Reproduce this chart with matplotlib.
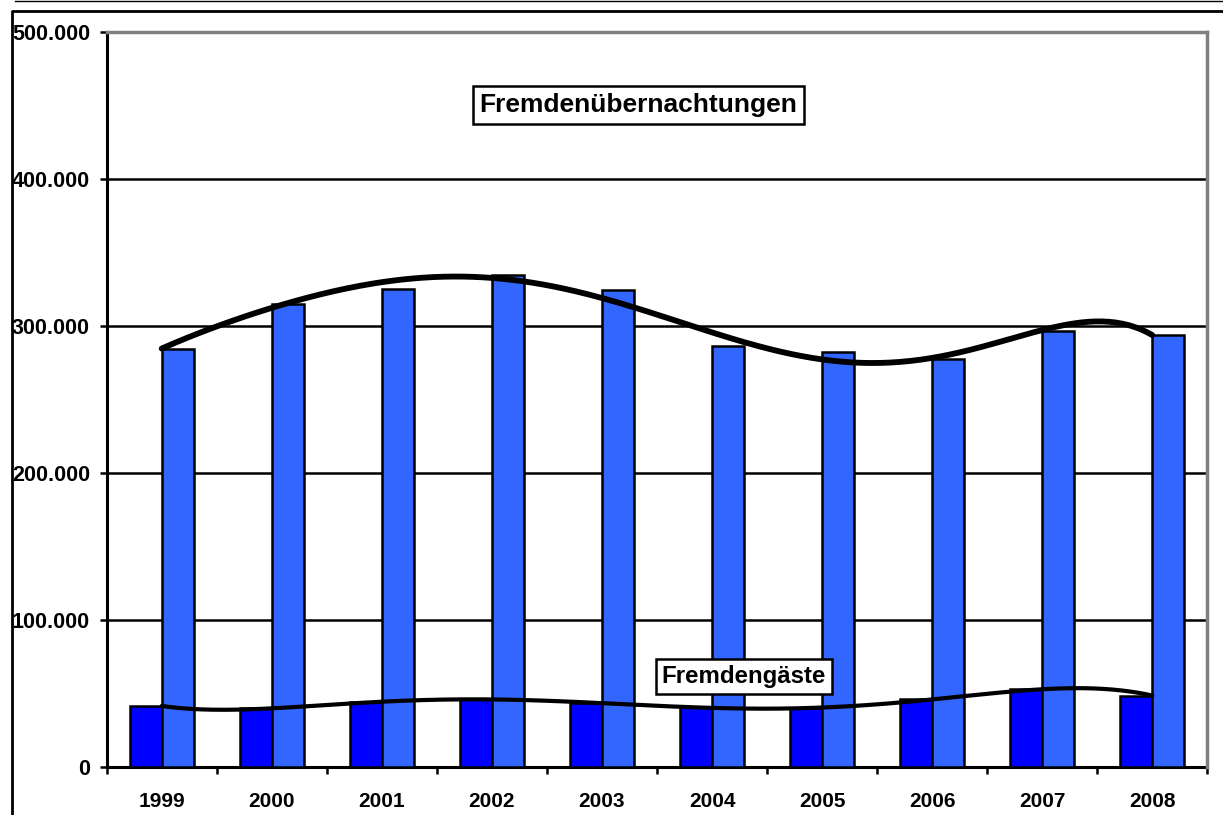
import numpy as np
import matplotlib.pyplot as plt
from matplotlib.lines import Line2D
from matplotlib.ticker import FuncFormatter, MultipleLocator

# Fremdengäste und Fremdenübernachtungen 1999-2008
jahre = ['1999', '2000', '2001', '2002', '2003', '2004', '2005', '2006', '2007', '2008']
gaeste = [41500, 39900, 44400, 46000, 43300, 40500, 40100, 46200, 52800, 48600]
naechte = [284200, 314800, 325200, 334700, 324500, 286600, 282500, 277800, 296600, 294000]

plt.rcParams['font.family'] = ['Liberation Sans', 'DejaVu Sans']
plt.rcParams['font.weight'] = 'bold'

fig = plt.figure(figsize=(12.23, 8.15), dpi=100)
ax = fig.add_axes([0.0872, 0.0589, 0.9, 0.9018])

x = np.arange(len(jahre))
b = 0.29  # balkenbreite
ax.bar(x, gaeste, width=-b, align='edge', color='#0000FF', edgecolor='black', linewidth=1.8, zorder=3)
ax.bar(x, naechte, width=b, align='edge', color='#3366FF', edgecolor='black', linewidth=1.8, zorder=3)

# polynomische trendlinien (6. ordnung)
xs = np.linspace(x[0], x[-1], 300)
for werte, lw in ((naechte, 4.2), (gaeste, 3.0)):
    p = np.polyfit(x, werte, 6)
    ax.plot(xs, np.polyval(p, xs), color='black', lw=lw, zorder=4, solid_capstyle='round')

ax.set_xlim(-0.5, len(jahre) - 0.5)
ax.set_ylim(0, 500000)
ax.yaxis.set_major_locator(MultipleLocator(100000))
ax.yaxis.set_major_formatter(FuncFormatter(lambda v, pos: f"{v:,.0f}".replace(",", ".")))
ax.set_axisbelow(True)
ax.yaxis.grid(True, color='black', lw=1.8)

ax.set_xticks(np.arange(len(jahre) + 1) - 0.5)
ax.set_xticklabels([])
ax.set_xticks(x, minor=True)
ax.set_xticklabels(jahre, minor=True)
ax.tick_params(axis='x', which='major', length=5, width=1.8, direction='out')
ax.tick_params(axis='x', which='minor', length=0, pad=18, labelsize=15)
ax.tick_params(axis='y', length=5, width=1.8, direction='out', pad=7, labelsize=15.5)

for s in ('left', 'bottom'):
    ax.spines[s].set_linewidth(2.2)
for s in ('top', 'right'):
    ax.spines[s].set_color('#808080')
    ax.spines[s].set_linewidth(2.5)
    ax.spines[s].set_zorder(5)

ax.text(0.4833, 0.9007, 'Fremdenübernachtungen', transform=ax.transAxes, ha='center', va='center',
        fontsize=19, zorder=6,
        bbox=dict(boxstyle='square,pad=0.25', fc='white', ec='black', lw=1.8))
ax.text(0.5788, 0.1238, 'Fremdengäste', transform=ax.transAxes, ha='center', va='center',
        fontsize=17.3, zorder=6,
        bbox=dict(boxstyle='square,pad=0.25', fc='white', ec='black', lw=1.8))

# rahmen um das diagramm
fig.add_artist(Line2D([15 / 1223, 1], [1 - 1 / 815] * 2, transform=fig.transFigure, color='black', lw=1))
fig.add_artist(Line2D([12 / 1223, 12 / 1223, 1], [0, 1 - 11 / 815, 1 - 11 / 815],
                      transform=fig.transFigure, color='black', lw=2))

fig.savefig('out.png', dpi=100)
